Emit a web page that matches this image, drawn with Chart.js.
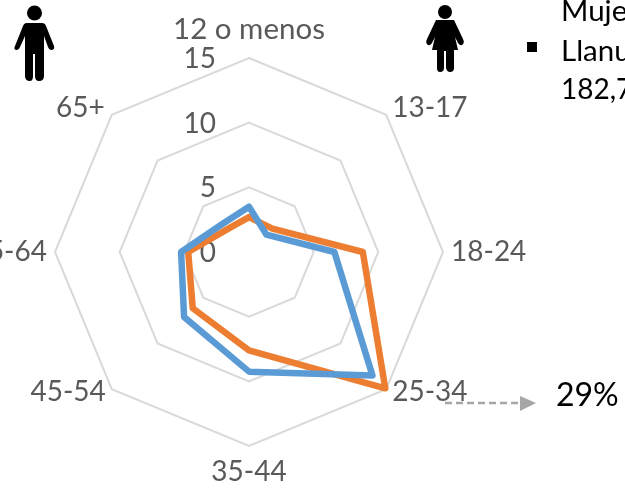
<!DOCTYPE html>
<html>
<head>
<meta charset="utf-8">
<script src="https://cdn.jsdelivr.net/npm/chart.js@4"></script>
<style>
html,body{margin:0;padding:0;background:#fff;overflow:hidden;width:625px;height:488px}
#mycanvas{position:absolute;left:0;top:0}
.txt{position:absolute;font-family:Lato,sans-serif;font-size:29.5px;line-height:38px;color:#000;white-space:nowrap}
svg{position:absolute;left:0;top:0}
</style>
</head>
<body>
<canvas id="mycanvas" width="625" height="488"></canvas>
<svg width="625" height="488">
  <!-- hombre -->
  <circle cx="34.5" cy="13" r="7.5" fill="#000"/>
  <path d="M27 23 H42 Q45 23 46 26 L54 46 Q55 50 51 50 Q49 50 48 47 L44 36 V76 Q44 81 39 81 Q35 81 35 76 V54 H33 V76 Q33 81 30 81 Q25 81 25 76 V36 L20 47 Q19 50 17 50 Q13 50 15 46 L23 26 Q24 23 27 23 Z" fill="#000"/>
  <!-- mujer -->
  <circle cx="445" cy="12" r="7" fill="#000"/>
  <path d="M436 20 H454 L463 39 Q465 43 462 45 Q460 46 458 43 L455 37 L458 50 H454 V68 Q454 72 450 72 Q447 72 446 68 V51 H444 V68 Q444 72 440 72 Q437 72 437 68 V50 H432 L435 37 L432 43 Q430 46 428 45 Q425 43 427 39 Z" fill="#000"/>
  <!-- flecha -->
  <line x1="445" y1="403" x2="520" y2="403" stroke="#A6A6A6" stroke-width="2.5" stroke-dasharray="7 4"/>
  <path d="M520 396 L536 403 L520 411 Z" fill="#A6A6A6"/>
  <rect x="527" y="42" width="10" height="10" fill="#000"/>
</svg>
<div class="txt" style="left:561px;top:-9px">Muje</div>
<div class="txt" style="left:561px;top:31px">Llanu</div>
<div class="txt" style="left:561px;top:69px;font-size:28px">182,7</div>
<div class="txt" style="left:556px;top:375px;font-size:32px">29%</div>
<script>
const categorias=["12 o menos","13-17","18-24","25-34","35-44","45-54","55-64","65+"];
const serieAzul=[3.5,1.9,6.6,13.5,9.25,7.1,5.25,3.0];
const serieNaranja=[2.7,2.55,8.8,14.9,7.6,6.15,4.7,2.45];
const ticksEje=[0,5,10,15];

// desplazamiento de cada etiqueta respecto a su vertice [dx,dy,alineacion]
const posEtiquetas=[[0,-29,"center"],[6,-7,"left"],[8,0,"left"],[6,3,"left"],[0,26,"center"],[-6,3,"right"],[-8,0,"right"],[-7,-7,"right"]];

// Chart.js no deja colocar estos textos como en el original, asi que se dibujan aqui
const etiquetas={
    id:"etiquetas",
    beforeDatasetsDraw(chart){
        const c=chart.ctx;
        const r=chart.scales.r;
        c.save();
        c.font="28px Lato, sans-serif";
        c.fillStyle="#595959";
        c.textBaseline="middle";
        c.textAlign="right";
        ticksEje.forEach(function(t){
            const p=r.getPointPositionForValue(0,t);
            c.fillText(String(t),p.x-33,p.y+1);
        });
        categorias.forEach(function(nombre,i){
            const p=r.getPointPositionForValue(i,15);
            // la primera lleva letras, Lato las tiene mas estrechas que los digitos
            c.font=(i==0?"29.5px":"28px")+" Lato, sans-serif";
            c.textAlign=posEtiquetas[i][2];
            c.fillText(nombre,p.x+posEtiquetas[i][0],p.y+posEtiquetas[i][1]);
        });
        c.restore();
    }
};

const ctx=document.getElementById("mycanvas").getContext("2d");
var grafico=new Chart(ctx,{
    type:"radar",
    data:{
        labels:categorias,
        datasets:[
            {data:serieAzul,borderColor:"#5B9BD5",borderWidth:6.5,fill:false,pointRadius:0,borderJoinStyle:"round"},
            {data:serieNaranja,borderColor:"#ED7D31",borderWidth:6.5,fill:false,pointRadius:0,borderJoinStyle:"round"}
        ]
    },
    options:{
        responsive:false,
        animation:false,
        layout:{padding:{left:0,right:127,top:58,bottom:42}},
        plugins:{legend:{display:false},tooltip:{enabled:false}},
        scales:{
            r:{
                min:0,
                max:15,
                ticks:{stepSize:5,display:false},
                grid:{color:"#D9D9D9",lineWidth:2},
                angleLines:{display:false},
                pointLabels:{display:false}
            }
        }
    },
    plugins:[etiquetas]
});
</script>
</body>
</html>
